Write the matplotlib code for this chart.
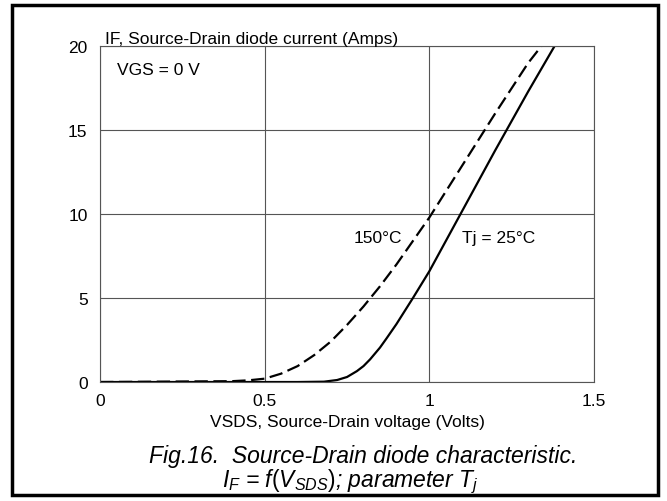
import matplotlib.pyplot as plt
from matplotlib.patches import Rectangle

plt.rcParams['font.family'] = ['Liberation Sans', 'DejaVu Sans']
plt.rcParams['mathtext.fontset'] = 'custom'
plt.rcParams['mathtext.it'] = 'Liberation Sans:italic'
plt.rcParams['mathtext.rm'] = 'Liberation Sans'

# 25 C curve (solid)
v_25 = [0, 0.6, 0.68, 0.72, 0.75, 0.78, 0.8, 0.82, 0.85, 0.87, 0.9, 0.95, 1.0,
        1.05, 1.1, 1.2, 1.3, 1.38]
i_25 = [0, 0.0, 0.02, 0.12, 0.3, 0.65, 0.95, 1.35, 2.05, 2.6, 3.45, 5.0, 6.6,
        8.4, 10.2, 13.8, 17.3, 20]

# 150 C curve (dashed)
v_150 = [0, 0.4, 0.45, 0.5, 0.55, 0.6, 0.65, 0.7, 0.75, 0.8, 0.85, 0.9, 0.95,
         1.0, 1.1, 1.2, 1.3, 1.34]
i_150 = [0, 0.05, 0.1, 0.2, 0.5, 0.95, 1.6, 2.4, 3.4, 4.5, 5.7, 7.0, 8.4,
         9.8, 12.9, 16.0, 19.0, 20]

x_ticks = [0, 0.5, 1, 1.5]
x_labels = ['0', '0.5', '1', '1.5']
y_ticks = [0, 5, 10, 15, 20]

fig = plt.figure(figsize=(6.67, 5.02), dpi=100)
ax = fig.add_axes([0.150, 0.237, 0.7406, 0.669])

ax.plot(v_25, i_25, color='black', lw=1.6)
ax.plot(v_150, i_150, color='black', lw=1.6, dashes=(6, 2.5))

ax.set_xlim(0, 1.5)
ax.set_ylim(0, 20)
ax.set_xticks(x_ticks)
ax.set_xticklabels(x_labels)
ax.set_yticks(y_ticks)
ax.tick_params(length=0, labelsize=12.5)
ax.tick_params(axis='x', pad=8)
ax.tick_params(axis='y', pad=9)
ax.grid(True, color='#555555', lw=0.8)
for s in ax.spines.values():
    s.set_color('#555555')
    s.set_linewidth(0.8)

ax.set_xlabel('VSDS, Source-Drain voltage (Volts)', fontsize=12.5, labelpad=4)
ax.text(0.01, 1.0, 'IF, Source-Drain diode current (Amps)', transform=ax.transAxes,
        fontsize=12.5, va='bottom', ha='left')
ax.text(0.05, 18.6, 'VGS = 0 V', fontsize=12.5, va='center')
ax.text(0.77, 8.6, '150°C', fontsize=12.5, va='center')
ax.text(1.1, 8.6, 'Tj = 25°C', fontsize=12.5, va='center')

fig.text(0.545, 0.09, 'Fig.16.  Source-Drain diode characteristic.', ha='center',
         va='center', fontsize=16.5, style='italic')
fig.text(0.525, 0.04, r'$I_F$ = $f(V_{SDS})$; parameter $T_j$', ha='center',
         va='center', fontsize=16.5, style='italic')

fig.patches.append(Rectangle((12 / 667, 6 / 502), 646 / 667, 490 / 502,
                             transform=fig.transFigure, fill=False,
                             edgecolor='black', lw=2.5))

fig.savefig('out.png', dpi=100)
